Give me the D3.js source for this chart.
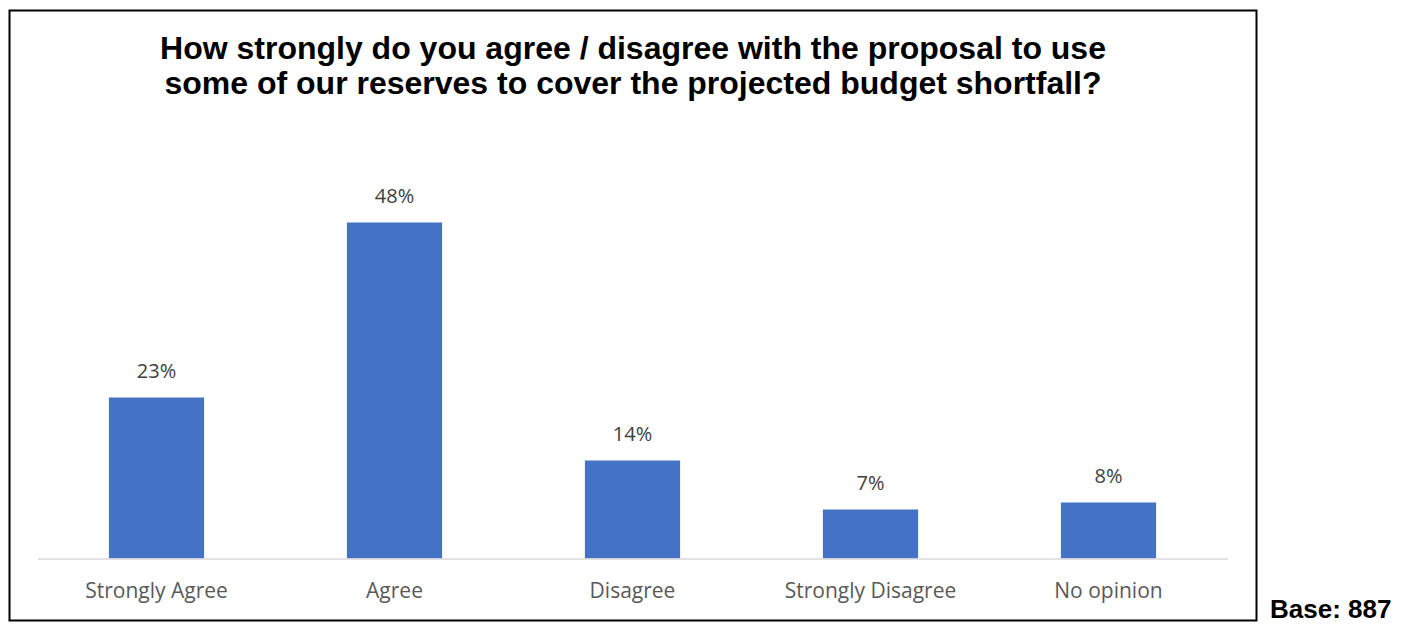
<!DOCTYPE html>
<html>
<head>
<meta charset="utf-8">
<script src="https://cdn.jsdelivr.net/npm/d3@7"></script>
<style>
  html, body { margin: 0; padding: 0; background: #fff; }
  svg { display: block; }
</style>
</head>
<body>
<svg id="chart" width="1408" height="624"></svg>
<script>
// Survey responses
const categories = ["Strongly Agree", "Agree", "Disagree", "Strongly Disagree", "No opinion"];
const shares = [0.23, 0.48, 0.14, 0.07, 0.08];
const titleLines = [
  "How strongly do you agree / disagree with the proposal to use",
  "some of our reserves to cover the projected budget shortfall?"
];
const baseNote = "Base: 887";

const svg = d3.select("#chart");
const labelFont = "'Open Sans', Lato, sans-serif";

// Outer frame
svg.append("rect")
  .attr("x", 9.5).attr("y", 10.5)
  .attr("width", 1247).attr("height", 610)
  .attr("fill", "#fff")
  .attr("stroke", "#000")
  .attr("stroke-width", 2);

// Title
svg.append("g")
  .selectAll("text")
  .data(titleLines)
  .join("text")
  .attr("x", 633)
  .attr("y", (d, i) => 59 + i * 35)
  .attr("text-anchor", "middle")
  .attr("font-family", "Liberation Sans, Arial, sans-serif")
  .attr("font-weight", "bold")
  .attr("font-size", 32)
  .attr("fill", "#000")
  .text(d => d);

const x = d3.scaleBand()
  .domain(categories)
  .range([37.5, 1227.5])
  .paddingInner(0.6)
  .paddingOuter(0.3);

const y = d3.scaleLinear()
  .domain([0, 0.6])
  .range([558.5, 138.5]);

const fmt = d3.format(".0%");

// Bars
svg.append("g")
  .selectAll("rect")
  .data(categories)
  .join("rect")
  .attr("x", d => x(d))
  .attr("y", (d, i) => y(shares[i]))
  .attr("width", x.bandwidth())
  .attr("height", (d, i) => y(0) - y(shares[i]))
  .attr("fill", "#4472c4");

// Category axis
const axis = svg.append("g")
  .attr("transform", `translate(0,${y(0)})`)
  .call(d3.axisBottom(x).tickSize(0).tickPadding(0));
axis.select(".domain").attr("stroke", "#d9d9d9").attr("stroke-width", 1.5);
axis.selectAll("text")
  .attr("dy", null)
  .attr("y", 39)
  .attr("font-family", labelFont)
  .attr("font-size", 21)
  .attr("fill", "#595959");

// Value labels
svg.append("g")
  .selectAll("text")
  .data(categories)
  .join("text")
  .attr("x", d => x(d) + x.bandwidth() / 2)
  .attr("y", (d, i) => y(shares[i]) - 19.5)
  .attr("text-anchor", "middle")
  .attr("font-family", labelFont)
  .attr("font-size", 20)
  .attr("fill", "#404040")
  .text((d, i) => fmt(shares[i]));

// Sample size note
svg.append("text")
  .attr("x", 1270)
  .attr("y", 618)
  .attr("font-family", "Liberation Sans, Arial, sans-serif")
  .attr("font-weight", "bold")
  .attr("font-size", 26)
  .attr("fill", "#000")
  .text(baseNote);
</script>
</body>
</html>
